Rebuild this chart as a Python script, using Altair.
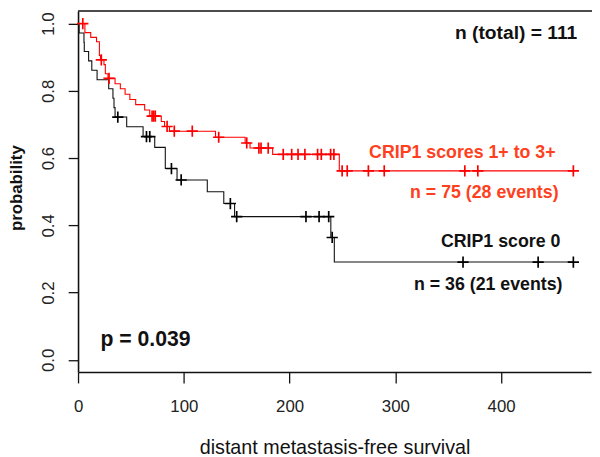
import altair as alt
import pandas as pd

# ---- Kaplan-Meier steps ----
red_time = [0, 6.5, 12, 17.5, 20.2, 21.2, 24.5, 25.8, 28.3, 35, 40, 44.5, 49, 54.5, 63, 67.8,
            78.7, 81.8, 86.5, 130, 158, 162.6, 184, 247, 468.3]
red_surv = [1.0, .973, .959, .946, .905, .892, .878, .851, .837, .821, .806, .790, .774, .759, .743, .725,
            .709, .694, .680, .662, .645, .630, .611, .562, .562]

red_cens_time = [4.5, 22, 29.3, 70, 71.5, 73, 84.2, 91, 108, 133, 159.5, 171, 173, 179.8,
                 194, 202, 208, 214.5, 226.5, 230, 238.8, 241.9,
                 249.7, 254.5, 274.5, 289.5, 365.7, 378, 468.3]
red_cens_surv = [1.0, .892, .837, .725, .725, .725, .694, .680, .680, .662, .645, .630, .630, .630,
                 .611, .611, .611, .611, .611, .611, .611, .611,
                 .562, .562, .562, .562, .562, .562, .562]

black_time = [0, 1, 5.6, 5.9, 10, 13, 18, 29, 33, 34, 35, 46, 61.5, 72.5, 82.5, 93.6,
              122.2, 137.8, 148, 239, 242.3, 468.3]
black_surv = [1.0, .972, .944, .917, .889, .861, .833, .806, .778, .750, .722, .693, .664, .632, .569, .535,
              .500, .465, .426, .364, .291, .291]

black_cens_time = [37.6, 64.7, 67.8, 88.3, 97.5, 144, 150, 215.5, 227.9, 237, 240.3, 364, 435, 468.3]
black_cens_surv = [.722, .664, .664, .569, .535, .465, .426, .426, .426, .426, .364, .291, .291, .291]

x_ticks = [0, 100, 200, 300, 400]
y_ticks = [0.0, 0.2, 0.4, 0.6, 0.8, 1.0]

# annotations (text, time, probability)
ann_total = ["n (total) = 111"]
ann_total_t = [472]
ann_total_s = [0.972]

ann_red = ["CRIP1 scores 1+ to 3+", "n = 75 (28 events)"]
ann_red_t = [451.5, 454.3]
ann_red_s = [0.616, 0.4956]

ann_black = ["CRIP1 score 0", "n = 36 (21 events)"]
ann_black_t = [456, 458]
ann_black_s = [0.349, 0.224]

ann_p = ["p = 0.039"]
ann_p_t = [21.2]
ann_p_s = [0.058]

FONT = "Liberation Sans, Arial, Helvetica, sans-serif"
W, H = 520, 366
PLUS = "M-1,0L1,0M0,-1L0,1"

x_enc = alt.X("t:Q",
              scale=alt.Scale(domain=[0, 485], nice=False, zero=False),
              axis=alt.Axis(values=x_ticks, format="d", grid=False, labelFlush=False,
                            domainColor="#111", domainWidth=1.6,
                            tickColor="#111", tickWidth=1.3, tickSize=11,
                            labelFont=FONT, labelFontSize=17, labelColor="#222",
                            labelPadding=15.5,
                            title="distant metastasis-free survival",
                            titleFont=FONT, titleFontSize=20, titleFontWeight="normal",
                            titleColor="#111", titleX=260, titleY=82.5,
                            titleAlign="center", titleBaseline="alphabetic"))
y_enc = alt.Y("s:Q",
              scale=alt.Scale(domain=[-0.0361, 1.0372], nice=False, zero=False),
              axis=alt.Axis(values=y_ticks, format=".1f", grid=False,
                            domainColor="#111", domainWidth=1.6,
                            tickColor="#111", tickWidth=1.3, tickSize=10,
                            labelFont=FONT, labelFontSize=17, labelColor="#222",
                            labelAngle=270, labelAlign="center", labelBaseline="bottom",
                            labelPadding=11.3,
                            title="probability",
                            titleFont=FONT, titleFontSize=17, titleFontWeight="bold",
                            titleColor="#111", titleAngle=270, titleX=-57, titleY=179,
                            titleAlign="center", titleBaseline="alphabetic"))

red_df = pd.DataFrame({"t": red_time, "s": red_surv})
black_df = pd.DataFrame({"t": black_time, "s": black_surv})
red_c = pd.DataFrame({"t": red_cens_time, "s": red_cens_surv})
black_c = pd.DataFrame({"t": black_cens_time, "s": black_cens_surv})

black_line = alt.Chart(black_df).mark_line(interpolate="step-after", color="#111",
                                           strokeWidth=1.1).encode(x=x_enc, y=y_enc)
red_line = alt.Chart(red_df).mark_line(interpolate="step-after", color="#ff0000",
                                       strokeWidth=1.1).encode(x=x_enc, y=y_enc)
black_pts = alt.Chart(black_c).mark_point(shape=PLUS, filled=False, size=130, strokeWidth=1.7,
                                          color="#000", opacity=1).encode(x=x_enc, y=y_enc)
red_pts = alt.Chart(red_c).mark_point(shape=PLUS, filled=False, size=130, strokeWidth=1.7,
                                      color="#ff0000", opacity=1).encode(x=x_enc, y=y_enc)

top_rule = alt.Chart(pd.DataFrame({"a": [0]})).mark_rule(color="#111", strokeWidth=1.6).encode(
    x=alt.value(0), x2=alt.value(W + 2), y=alt.value(0))


def txt(labels, ts, ss, color, size, align):
    df = pd.DataFrame({"t": ts, "s": ss, "label": labels})
    return alt.Chart(df).mark_text(font=FONT, fontSize=size, fontWeight="bold", color=color,
                                   align=align, baseline="middle").encode(
        x=x_enc, y=y_enc, text="label:N")


t_total = txt(ann_total, ann_total_t, ann_total_s, "#111", 19.5, "right")
t_red = txt(ann_red, ann_red_t, ann_red_s, "#ff4020", 18, "right")
t_black = txt(ann_black, ann_black_t, ann_black_s, "#111", 18, "right")
t_p = txt(ann_p, ann_p_t, ann_p_s, "#111", 21.5, "left")

chart = alt.layer(black_line, red_line, black_pts, red_pts, top_rule,
                  t_total, t_red, t_black, t_p).properties(
    width=W, height=H,
    title=alt.TitleParams("CRIP1", font=FONT, fontSize=20, fontWeight="bold", color="#111"),
    autosize=alt.AutoSizeParams(type="none"),
    padding={"left": 71, "top": 0, "right": 1, "bottom": 83},
    background="white",
).configure_view(stroke=None)

chart.save("out.html", embed_options={"renderer": "svg", "actions": False})
